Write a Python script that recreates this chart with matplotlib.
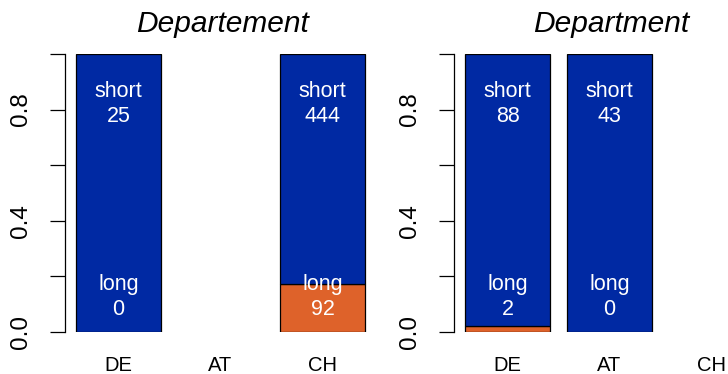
import matplotlib
matplotlib.use('Agg')
import matplotlib.pyplot as plt
import numpy as np

plt.rcParams['font.family'] = ['Liberation Sans', 'DejaVu Sans']

countries = ['DE', 'AT', 'CH']

# left panel: "Departement"
left_short = [25, 0, 444]
left_long = [0, 0, 92]

# right panel: "Department"
right_short = [88, 43, 0]
right_long = [2, 0, 0]

BLUE = '#0029a3'
ORANGE = '#de622a'

W, H = 728, 374


def panel(fig, left_px, title, short, long_):
    ax = fig.add_axes([left_px / W, 42 / H, 314 / W, 278 / H])
    x = np.array([0.7, 1.9, 3.1])
    short = np.array(short, dtype=float)
    long_ = np.array(long_, dtype=float)
    total = short + long_
    for xi, s, l, t in zip(x, short, long_, total):
        if t == 0:
            continue
        pl = l / t
        ax.bar(xi, pl, width=1, bottom=0, color=ORANGE, edgecolor='black', linewidth=0.9)
        ax.bar(xi, 1 - pl, width=1, bottom=pl, color=BLUE, edgecolor='black', linewidth=0.9)
        ax.text(xi, 0.82, f'short\n{int(s)}', color='white', ha='center', va='center',
                fontsize=15.5, linespacing=1.25)
        ax.text(xi, 0.125, f'long\n{int(l)}', color='white', ha='center', va='center',
                fontsize=15.5, linespacing=1.25)

    ax.set_xlim(0.07, 0.07 + 314 / 85)
    ax.set_ylim(0, 1)
    for side in ('top', 'right', 'bottom'):
        ax.spines[side].set_visible(False)
    ax.spines['left'].set_bounds(0, 1)
    ax.spines['left'].set_linewidth(0.9)

    ax.set_xticks(x)
    ax.set_xticklabels(countries, fontsize=14.5)
    ax.tick_params(axis='x', length=0, pad=17)

    ax.set_yticks([0, 0.2, 0.4, 0.6, 0.8, 1.0])
    ax.set_yticklabels(['0.0', '', '0.4', '', '0.8', ''], rotation=90, va='center', fontsize=17.5)
    ax.tick_params(axis='y', length=11, width=0.9, pad=13)

    ax.set_title(title, fontsize=21.5, style='italic', pad=16)
    return ax


fig = plt.figure(figsize=(W / 100, H / 100), dpi=100)
panel(fig, 65, 'Departement', left_short, left_long)
panel(fig, 454, 'Department', right_short, right_long)

fig.savefig('out.png', dpi=100)
plt.close(fig)
